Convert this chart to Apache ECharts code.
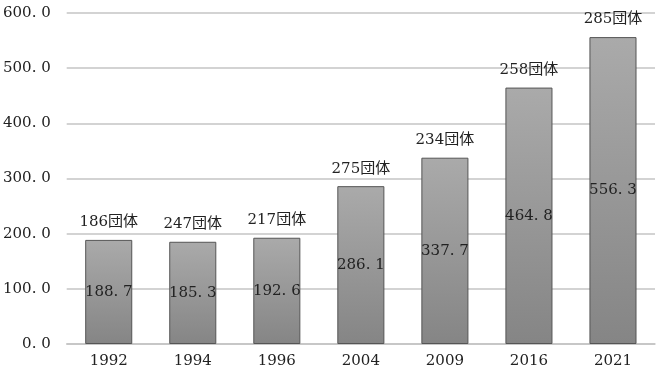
<!DOCTYPE html>
<html>
<head>
<meta charset="utf-8">
<script src="https://cdn.jsdelivr.net/npm/echarts@6/dist/echarts.min.js"></script>
<style>
  html, body { margin: 0; padding: 0; background: #fff; }
  #chart { width: 661px; height: 377px; }
</style>
</head>
<body>
<div id="chart"></div>
<script>
// survey years, amounts and number of groups (label above each bar)
var years = ['1992', '1994', '1996', '2004', '2009', '2016', '2021'];
var amounts = [188.7, 185.3, 192.6, 286.1, 337.7, 464.8, 556.3];
var groups = [186, 247, 217, 275, 234, 258, 285];
var yTicks = [0, 100, 200, 300, 400, 500, 600];

var FONT = '"DejaVu Serif", "Noto Sans CJK JP", serif';

var chart = echarts.init(document.getElementById('chart'), null, {renderer: 'canvas'});

var barColor = new echarts.graphic.LinearGradient(0, 0, 0, 1, [
  {offset: 0, color: '#aaaaaa'},
  {offset: 1, color: '#858585'}
]);

var option = {
  animation: false,
  grid: {left: 66, right: 6, top: 13, bottom: 33, containLabel: false},
  xAxis: {
    type: 'category',
    data: years,
    axisTick: {show: false},
    axisLine: {lineStyle: {color: '#c4c4c4', width: 1.5}},
    axisLabel: {color: '#222', fontFamily: FONT, fontSize: 15, margin: 10}
  },
  yAxis: {
    type: 'value',
    min: yTicks[0],
    max: yTicks[yTicks.length - 1],
    interval: 100,
    axisLine: {show: false},
    axisTick: {show: false},
    splitLine: {lineStyle: {color: '#c4c4c4', width: 1.5}},
    axisLabel: {
      color: '#222', fontFamily: FONT, fontSize: 15, margin: 16,
      formatter: function (v) { return v.toFixed(1).replace('.', '. '); }
    }
  },
  series: [
    {
      type: 'bar',
      data: amounts,
      barWidth: '56%',
      itemStyle: {color: barColor, borderColor: '#555', borderWidth: 1},
      label: {
        show: true,
        position: 'inside',
        color: '#222',
        fontFamily: FONT,
        fontSize: 15,
        formatter: function (p) { return p.value.toFixed(1).replace('.', '. '); }
      },
      z: 2
    },
    {
      // invisible helper carrying the "団体" labels above the bars
      type: 'bar',
      data: amounts,
      barWidth: '56%',
      barGap: '-100%',
      itemStyle: {color: 'transparent'},
      label: {
        show: true,
        position: 'top',
        distance: 10,
        color: '#222',
        fontFamily: FONT,
        fontSize: 15,
        formatter: function (p) { return groups[p.dataIndex] + '団体'; }
      },
      z: 3
    }
  ]
};

chart.setOption(option);
</script>
</body>
</html>
